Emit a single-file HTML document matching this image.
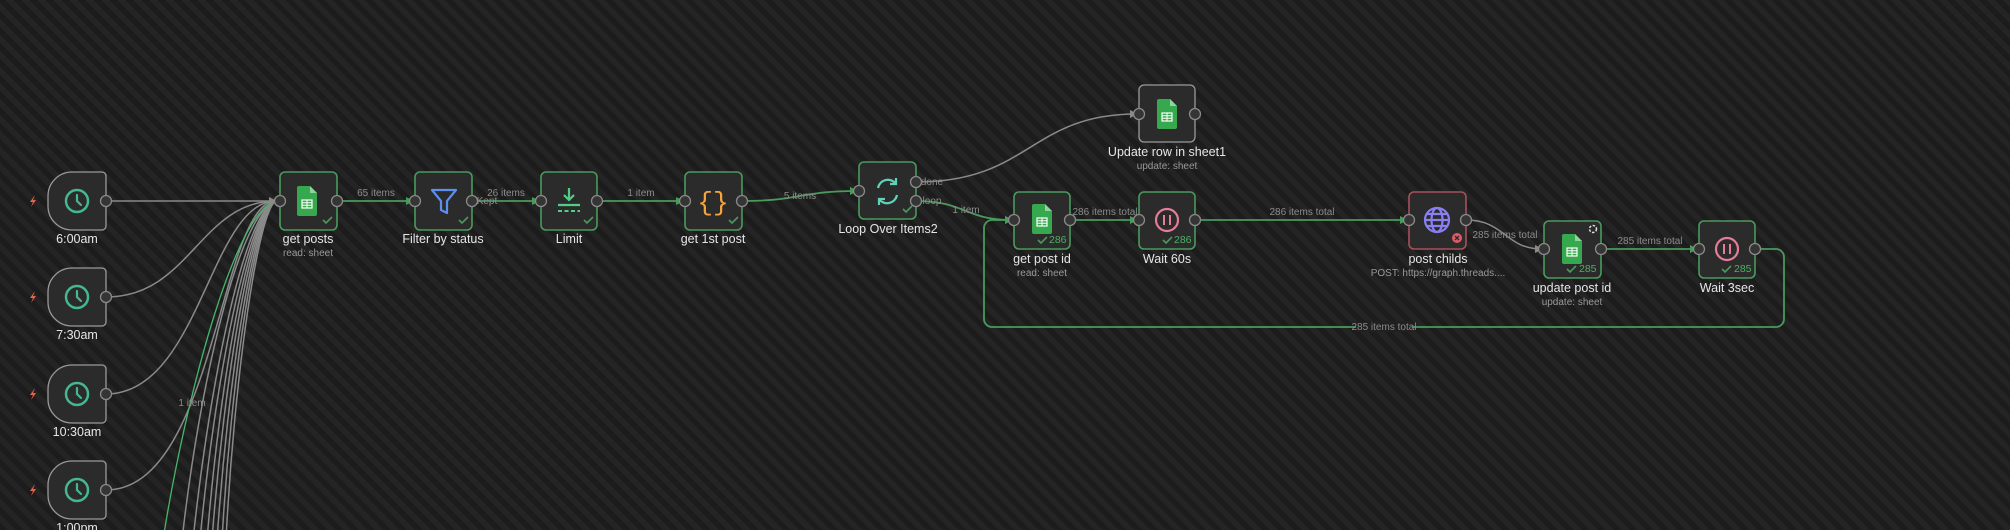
<!DOCTYPE html>
<html><head><meta charset="utf-8"><style>
html,body{margin:0;padding:0;width:2010px;height:530px;overflow:hidden;}
body{background:#1e1e1e;background-image:repeating-linear-gradient(45deg,#1c1c1c 0px,#1c1c1c 5.6px,#242424 5.6px,#242424 11.3px);font-family:"Liberation Sans",sans-serif;}
svg{position:absolute;left:0;top:0}
.lbl{fill:#e6e6e6;font-size:12.5px;text-anchor:middle}
.sub{fill:#9a9a9a;font-size:10px;text-anchor:middle}
.el{fill:#8c8c8c;font-size:10px;text-anchor:middle}
.nd{fill:#2b2b2b;stroke:#4a9a5c;stroke-width:1.6}
.ndg{fill:#2b2b2b;stroke:#9a9a9a;stroke-width:1.3}
.h{fill:#353535;stroke:#8a8a8a;stroke-width:1.3}
.ge{fill:none;stroke:#4a9a5c;stroke-width:1.8}
.gr{fill:none;stroke:#8a8a8a;stroke-width:1.5}
.ck{fill:none;stroke:#4a9a5c;stroke-width:1.6}
.cnt{fill:#4fae66;font-size:10.5px}
</style></head><body>
<svg width="2010" height="530" viewBox="0 0 2010 530">
<defs>
<marker id="ag" markerWidth="8" markerHeight="8" refX="7" refY="4" orient="auto" markerUnits="userSpaceOnUse"><path d="M0,0 L8,4 L0,8z" fill="#4a9a5c"/></marker>
<marker id="aw" markerWidth="8" markerHeight="8" refX="7" refY="4" orient="auto" markerUnits="userSpaceOnUse"><path d="M0,0 L8,4 L0,8z" fill="#8a8a8a"/></marker>
<g id="sheet"><path d="M-10,-14 h13 l7,7 v21 a2,2 0 0 1 -2,2 h-16 a2,2 0 0 1 -2,-2 v-26 a2,2 0 0 1 2,-2z" fill="#36a94f"/><path d="M3,-14 v7 h7z" fill="#8fd49c"/><rect x="-5" y="0" width="10" height="8" fill="none" stroke="#fff" stroke-width="1.2"/><path d="M-5,2.7 h10 M-5,5.3 h10 M0,0 v8" stroke="#fff" stroke-width="1"/></g>
<g id="clock"><circle r="11" fill="none" stroke="#43b892" stroke-width="2.5"/><path d="M0,-6 v6 l4,4" fill="none" stroke="#43b892" stroke-width="2.2" stroke-linecap="round"/></g>
<path id="bolt" d="M2,-6 L-3,1 H0 L-2,6 L3,-1 H0z" fill="#e8624a"/>
</defs>

<g class="gr" stroke-width="1.2">
<path d="M106,297 C190,297 200,201 276,201"/>
<path d="M106,394 C200,394 210,201 276,201"/>
<path d="M106,490 C215,490 220,201 276,201"/>
<path d="M182,540 C200,380 240,210 276,201"/>
<path d="M193,540 C210,380 245,210 276,201"/>
<path d="M200,540 C215,380 248,210 276,201"/>
<path d="M207,540 C220,380 250,210 276,201"/>
<path d="M212,540 C224,380 252,210 276,201"/>
<path d="M217,540 C228,380 254,210 276,201"/>
<path d="M222,540 C231,380 256,210 276,201"/>
<path d="M226,540 C234,380 258,210 276,201"/>
</g>
<path d="M163,540 C185,400 235,210 276,201" fill="none" stroke="#43b86a" stroke-width="1.3"/>
<path class="gr" d="M106,201 L276,201" marker-end="url(#aw)"/>
<text class="el" x="192" y="406">1 item</text>

<path class="ge" d="M337,201 L413,201" marker-end="url(#ag)"/><text class="el" x="376" y="196">65 items</text>
<path class="ge" d="M472,201 L539,201" marker-end="url(#ag)"/><text class="el" x="506" y="196">26 items</text><text class="el" x="487" y="204" font-size="9">Kept</text>
<path class="ge" d="M597,201 L683,201" marker-end="url(#ag)"/><text class="el" x="641" y="196">1 item</text>
<path class="ge" d="M742,201 C800,201 800,191 857,191" marker-end="url(#ag)"/><text class="el" x="800" y="199">5 items</text>
<path class="gr" d="M916,182 C1030,182 1030,114 1137,114" marker-end="url(#aw)"/><text class="el" x="932" y="185" font-size="9">done</text>
<path class="ge" d="M916,201 C965,201 965,220 1012,220" marker-end="url(#ag)"/><text class="el" x="932" y="204" font-size="9">loop</text><text class="el" x="966" y="213">1 item</text>
<path class="ge" d="M1070,220 L1137,220" marker-end="url(#ag)"/><text class="el" x="1105" y="215">286 items total</text>
<path class="ge" d="M1195,220 L1407,220" marker-end="url(#ag)"/><text class="el" x="1302" y="215">286 items total</text>
<path class="gr" d="M1466,220 C1505,220 1505,249 1542,249" marker-end="url(#aw)"/><text class="el" x="1505" y="238">285 items total</text>
<path class="ge" d="M1601,249 L1697,249" marker-end="url(#ag)"/><text class="el" x="1650" y="244">285 items total</text>
<path class="ge" d="M1755,249 H1776 a8,8 0 0 1 8,8 V319 a8,8 0 0 1 -8,8 H992 a8,8 0 0 1 -8,-8 V228 a8,8 0 0 1 8,-8 H1012" marker-end="url(#ag)"/>
<rect x="1356" y="321" width="56" height="11" fill="#202020"/><text class="el" x="1384" y="330">285 items total</text>

<g>
<path class="ndg" d="M72,172 H102 a4,4 0 0 1 4,4 V226 a4,4 0 0 1 -4,4 H72 a24,24 0 0 1 -24,-24 V196 a24,24 0 0 1 24,-24z"/>
<use href="#clock" x="77" y="201"/><use href="#bolt" x="33" y="201"/><circle class="h" cx="106" cy="201" r="5.5"/>
<text class="lbl" x="77" y="243">6:00am</text>
</g>
<g transform="translate(0,96)">
<path class="ndg" d="M72,172 H102 a4,4 0 0 1 4,4 V226 a4,4 0 0 1 -4,4 H72 a24,24 0 0 1 -24,-24 V196 a24,24 0 0 1 24,-24z"/>
<use href="#clock" x="77" y="201"/><use href="#bolt" x="33" y="201"/><circle class="h" cx="106" cy="201" r="5.5"/>
<text class="lbl" x="77" y="243">7:30am</text>
</g>
<g transform="translate(0,193)">
<path class="ndg" d="M72,172 H102 a4,4 0 0 1 4,4 V226 a4,4 0 0 1 -4,4 H72 a24,24 0 0 1 -24,-24 V196 a24,24 0 0 1 24,-24z"/>
<use href="#clock" x="77" y="201"/><use href="#bolt" x="33" y="201"/><circle class="h" cx="106" cy="201" r="5.5"/>
<text class="lbl" x="77" y="243">10:30am</text>
</g>
<g transform="translate(0,289)">
<path class="ndg" d="M72,172 H102 a4,4 0 0 1 4,4 V226 a4,4 0 0 1 -4,4 H72 a24,24 0 0 1 -24,-24 V196 a24,24 0 0 1 24,-24z"/>
<use href="#clock" x="77" y="201"/><use href="#bolt" x="33" y="201"/><circle class="h" cx="106" cy="201" r="5.5"/>
<text class="lbl" x="77" y="243">1:00pm</text>
</g>

<rect class="nd" x="280" y="172" width="57" height="58" rx="5"/><use href="#sheet" x="307" y="200"/>
<path class="ck" d="M323,220 l3,3 l6,-6"/><circle class="h" cx="280" cy="201" r="5.5"/><circle class="h" cx="337" cy="201" r="5.5"/>
<text class="lbl" x="308" y="243">get posts</text><text class="sub" x="308" y="256">read: sheet</text>

<rect class="nd" x="415" y="172" width="57" height="58" rx="5"/>
<path d="M432,190 h24 l-9,11 v12 l-6,-3 v-9z" fill="none" stroke="#5b8ff0" stroke-width="2.2" stroke-linejoin="round"/>
<path class="ck" d="M459,220 l3,3 l6,-6"/><circle class="h" cx="415" cy="201" r="5.5"/><circle class="h" cx="472" cy="201" r="5.5"/>
<text class="lbl" x="443" y="243">Filter by status</text>

<rect class="nd" x="541" y="172" width="56" height="58" rx="5"/>
<path d="M569,188 v12 M564,195 l5,5 l5,-5" fill="none" stroke="#4fcf86" stroke-width="2.2"/>
<path d="M558,205 h22" stroke="#4fcf86" stroke-width="2.2"/><path d="M558,211 h22" stroke="#4fcf86" stroke-width="2" stroke-dasharray="4,2.5"/>
<path class="ck" d="M584,220 l3,3 l6,-6"/><circle class="h" cx="541" cy="201" r="5.5"/><circle class="h" cx="597" cy="201" r="5.5"/>
<text class="lbl" x="569" y="243">Limit</text>

<rect class="nd" x="685" y="172" width="57" height="58" rx="5"/>
<text x="713" y="210" text-anchor="middle" fill="#f5a53a" font-size="26" font-family="Liberation Mono,monospace">{}</text>
<path class="ck" d="M729,220 l3,3 l6,-6"/><circle class="h" cx="685" cy="201" r="5.5"/><circle class="h" cx="742" cy="201" r="5.5"/>
<text class="lbl" x="713" y="243">get 1st post</text>

<rect class="nd" x="859" y="162" width="57" height="57" rx="5"/>
<g fill="none" stroke="#5fd1b8" stroke-width="2.2"><path d="M878,188 a10,10 0 0 1 18,-4"/><path d="M897,195 a10,10 0 0 1 -18,4"/><path d="M896,178 v6 h-6"/><path d="M879,205 v-6 h6"/></g>
<path class="ck" d="M903,209 l3,3 l6,-6"/><circle class="h" cx="859" cy="191" r="5.5"/><circle class="h" cx="916" cy="182" r="5.5"/><circle class="h" cx="916" cy="201" r="5.5"/>
<text class="lbl" x="888" y="233">Loop Over Items2</text>

<rect class="ndg" x="1139" y="85" width="56" height="57" rx="5"/><use href="#sheet" x="1167" y="113"/>
<circle class="h" cx="1139" cy="114" r="5.5"/><circle class="h" cx="1195" cy="114" r="5.5"/>
<text class="lbl" x="1167" y="156">Update row in sheet1</text><text class="sub" x="1167" y="169">update: sheet</text>

<rect class="nd" x="1014" y="192" width="56" height="57" rx="5"/><use href="#sheet" x="1042" y="218"/>
<path class="ck" d="M1038,240 l3,3 l6,-6"/><text class="cnt" x="1049" y="243">286</text>
<circle class="h" cx="1014" cy="220" r="5.5"/><circle class="h" cx="1070" cy="220" r="5.5"/>
<text class="lbl" x="1042" y="263">get post id</text><text class="sub" x="1042" y="276">read: sheet</text>

<rect class="nd" x="1139" y="192" width="56" height="57" rx="5"/>
<circle cx="1167" cy="220" r="11" fill="none" stroke="#e57d98" stroke-width="2.2"/><path d="M1164,215 v10 M1170,215 v10" stroke="#e57d98" stroke-width="2"/>
<path class="ck" d="M1163,240 l3,3 l6,-6"/><text class="cnt" x="1174" y="243">286</text>
<circle class="h" cx="1139" cy="220" r="5.5"/><circle class="h" cx="1195" cy="220" r="5.5"/>
<text class="lbl" x="1167" y="263">Wait 60s</text>

<rect x="1409" y="192" width="57" height="57" rx="5" fill="#2b2b2b" stroke="#a8505c" stroke-width="1.6"/>
<g fill="none" stroke="#8a7ff2" stroke-width="2.2"><circle cx="1437" cy="220" r="12"/><ellipse cx="1437" cy="220" rx="5.5" ry="12"/><path d="M1425,220 h24 M1427,214 h20 M1427,226 h20"/></g>
<circle cx="1457" cy="238" r="5" fill="#e05a66"/><path d="M1455,236 l4,4 M1459,236 l-4,4" stroke="#2b2b2b" stroke-width="1.3"/>
<circle class="h" cx="1409" cy="220" r="5.5"/><circle class="h" cx="1466" cy="220" r="5.5"/>
<text class="lbl" x="1438" y="263">post childs</text><text class="sub" x="1438" y="276">POST: https://graph.threads....</text>

<rect class="nd" x="1544" y="221" width="57" height="57" rx="5"/><use href="#sheet" x="1572" y="248"/>
<circle cx="1593" cy="229" r="3.5" fill="none" stroke="#ddd" stroke-width="1.5" stroke-dasharray="2.5,1.5"/>
<path class="ck" d="M1567,269 l3,3 l6,-6"/><text class="cnt" x="1579" y="272">285</text>
<circle class="h" cx="1544" cy="249" r="5.5"/><circle class="h" cx="1601" cy="249" r="5.5"/>
<text class="lbl" x="1572" y="292">update post id</text><text class="sub" x="1572" y="305">update: sheet</text>

<rect class="nd" x="1699" y="221" width="56" height="57" rx="5"/>
<circle cx="1727" cy="249" r="11" fill="none" stroke="#e57d98" stroke-width="2.2"/><path d="M1724,244 v10 M1730,244 v10" stroke="#e57d98" stroke-width="2"/>
<path class="ck" d="M1722,269 l3,3 l6,-6"/><text class="cnt" x="1734" y="272">285</text>
<circle class="h" cx="1699" cy="249" r="5.5"/><circle class="h" cx="1755" cy="249" r="5.5"/>
<text class="lbl" x="1727" y="292">Wait 3sec</text>
</svg>
</body></html>
